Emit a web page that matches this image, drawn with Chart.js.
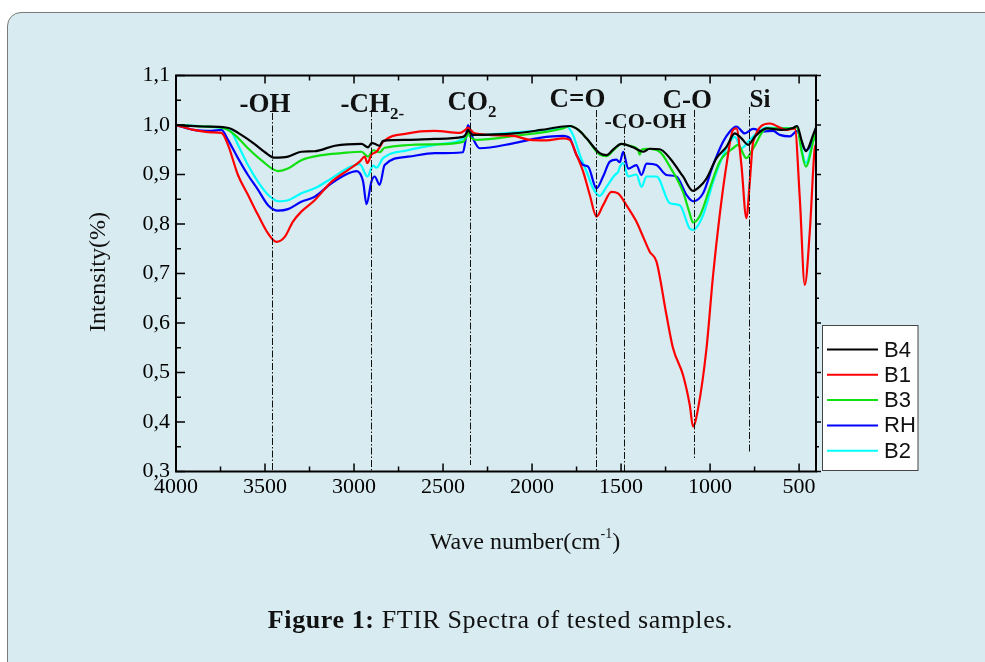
<!DOCTYPE html>
<html>
<head>
<meta charset="utf-8">
<script src="https://cdn.jsdelivr.net/npm/chart.js@4.4.1/dist/chart.umd.min.js"></script>
<style>
    html, body { margin: 0; padding: 0; background: #ffffff; }
    body { width: 985px; height: 662px; position: relative; overflow: hidden; }
    #panel { position: absolute; left: 7px; top: 12px; width: 1010px; height: 700px; background: #d8ebf1; border: 1px solid #7a7a7a; border-radius: 14px; }
    #chart { position: absolute; left: 0; top: 0; }
    #caption { position: absolute; left: 8px; top: 605px; width: 985px; text-align: center; font-family: "Liberation Serif", serif; font-size: 26px; letter-spacing: 0.6px; line-height: 30px; color: #111; }
</style>
</head>
<body>
<div id="panel"></div>
<canvas id="chart" width="985" height="662"></canvas>
<div id="caption"><b>Figure 1:</b> FTIR Spectra of tested samples.</div>
<script>
// wavenumber (cm-1), intensity
var B4 = [
    [4000, 1.000], [3850, 0.997], [3720, 0.995], [3689, 0.992], [3633, 0.980], [3560, 0.962],
    [3500, 0.945], [3446, 0.934], [3371, 0.936], [3296, 0.946], [3221, 0.947], [3108, 0.958],
    [2958, 0.962], [2921, 0.955], [2900, 0.964], [2884, 0.962], [2856, 0.958], [2837, 0.968],
    [2700, 0.970], [2547, 0.972], [2388, 0.976], [2370, 0.982], [2360, 0.990], [2345, 0.983],
    [2330, 0.980], [2100, 0.983], [1950, 0.990], [1826, 0.997], [1788, 0.998], [1740, 0.990],
    [1694, 0.973], [1620, 0.943], [1582, 0.939], [1540, 0.952], [1498, 0.962], [1433, 0.955],
    [1376, 0.946], [1339, 0.952], [1283, 0.951], [1226, 0.933], [1152, 0.896], [1096, 0.867],
    [1060, 0.875], [1020, 0.892], [964, 0.933], [908, 0.956], [861, 0.983], [824, 0.973],
    [786, 0.960], [749, 0.976], [683, 0.993], [600, 0.990], [534, 0.994], [511, 0.998],
    [487, 0.970], [462, 0.947], [421, 0.980], [405, 0.995]
];
var B1 = [
    [4000, 1.000], [3900, 0.990], [3800, 0.985], [3745, 0.984], [3708, 0.960], [3652, 0.899],
    [3596, 0.859], [3539, 0.818], [3483, 0.781], [3436, 0.764], [3389, 0.774], [3343, 0.805],
    [3296, 0.825], [3221, 0.848], [3127, 0.885], [3034, 0.909], [2968, 0.926], [2940, 0.936],
    [2925, 0.923], [2902, 0.940], [2874, 0.946], [2856, 0.955], [2837, 0.966], [2697, 0.983],
    [2547, 0.988], [2406, 0.984], [2375, 0.990], [2360, 0.995], [2340, 0.988], [2322, 0.983],
    [2107, 0.978], [2013, 0.970], [1919, 0.969], [1826, 0.973], [1788, 0.970], [1751, 0.940],
    [1713, 0.906], [1676, 0.859], [1638, 0.815], [1601, 0.838], [1554, 0.865], [1517, 0.862],
    [1470, 0.838], [1414, 0.805], [1376, 0.774], [1339, 0.744], [1301, 0.724], [1245, 0.616],
    [1208, 0.549], [1152, 0.495], [1114, 0.434], [1096, 0.391], [1067, 0.428], [1020, 0.549],
    [983, 0.697], [946, 0.818], [908, 0.919], [871, 0.990], [852, 0.993], [824, 0.919],
    [796, 0.812], [777, 0.885], [758, 0.966], [665, 1.003], [571, 0.990], [524, 0.993],
    [496, 0.852], [468, 0.677], [440, 0.784], [412, 0.953], [405, 0.960]
];
var B3 = [
    [4000, 1.000], [3850, 0.997], [3727, 0.993], [3670, 0.980], [3596, 0.953], [3521, 0.929],
    [3427, 0.907], [3371, 0.912], [3296, 0.929], [3183, 0.939], [3071, 0.943], [2958, 0.946],
    [2921, 0.936], [2893, 0.949], [2856, 0.945], [2828, 0.954], [2547, 0.961], [2388, 0.966],
    [2370, 0.975], [2360, 0.985], [2345, 0.975], [2313, 0.970], [2100, 0.978], [1826, 0.993],
    [1788, 0.998], [1740, 0.990], [1694, 0.973], [1620, 0.940], [1582, 0.937], [1540, 0.950],
    [1498, 0.962], [1450, 0.958], [1405, 0.950], [1395, 0.940], [1385, 0.950], [1357, 0.952],
    [1283, 0.946], [1226, 0.916], [1152, 0.865], [1115, 0.822], [1096, 0.803], [1058, 0.816],
    [1002, 0.872], [946, 0.926], [908, 0.943], [871, 0.953], [843, 0.960], [796, 0.933],
    [758, 0.953], [683, 0.993], [534, 0.993], [511, 0.996], [487, 0.949], [462, 0.916],
    [421, 0.966], [405, 0.990]
];
var RH = [
    [4000, 1.000], [3900, 0.990], [3800, 0.988], [3745, 0.990], [3708, 0.970], [3652, 0.933],
    [3596, 0.899], [3539, 0.869], [3483, 0.838], [3427, 0.827], [3371, 0.830], [3296, 0.845],
    [3221, 0.855], [3127, 0.882], [3034, 0.902], [2986, 0.907], [2949, 0.886], [2930, 0.840],
    [2902, 0.886], [2884, 0.896], [2856, 0.879], [2828, 0.919], [2697, 0.936], [2547, 0.943],
    [2388, 0.945], [2375, 0.966], [2360, 1.000], [2332, 0.973], [2294, 0.953], [2107, 0.963],
    [1957, 0.974], [1826, 0.978], [1788, 0.973], [1751, 0.940], [1713, 0.919], [1685, 0.916],
    [1638, 0.872], [1601, 0.896], [1563, 0.926], [1526, 0.930], [1507, 0.925], [1488, 0.946],
    [1460, 0.912], [1414, 0.919], [1385, 0.899], [1357, 0.922], [1301, 0.919], [1245, 0.899],
    [1189, 0.896], [1133, 0.859], [1096, 0.846], [1039, 0.862], [983, 0.919], [927, 0.966],
    [889, 0.987], [852, 0.997], [805, 0.983], [758, 0.992], [702, 0.987], [646, 0.988],
    [608, 0.980], [552, 0.977], [511, 0.988], [487, 0.966], [462, 0.949], [421, 0.970],
    [405, 0.990]
];
var B2 = [
    [4000, 1.000], [3850, 0.997], [3727, 0.993], [3689, 0.987], [3652, 0.960], [3596, 0.919],
    [3539, 0.885], [3483, 0.859], [3427, 0.846], [3371, 0.848], [3296, 0.862], [3221, 0.872],
    [3127, 0.892], [3034, 0.913], [2968, 0.921], [2925, 0.896], [2893, 0.918], [2874, 0.914],
    [2837, 0.933], [2697, 0.949], [2547, 0.960], [2369, 0.976], [2350, 0.985], [2330, 0.980],
    [2100, 0.985], [1826, 0.995], [1807, 0.997], [1770, 0.980], [1732, 0.940], [1694, 0.906],
    [1657, 0.872], [1620, 0.857], [1582, 0.875], [1535, 0.899], [1517, 0.905], [1507, 0.915],
    [1488, 0.923], [1460, 0.896], [1414, 0.900], [1385, 0.875], [1357, 0.896], [1301, 0.896],
    [1226, 0.842], [1170, 0.838], [1115, 0.791], [1096, 0.788], [1039, 0.818], [983, 0.885],
    [927, 0.939], [889, 0.966], [861, 0.976], [824, 0.953], [786, 0.966], [740, 0.983],
    [683, 0.995], [534, 0.993], [511, 0.998], [487, 0.953], [462, 0.923], [421, 0.970],
    [405, 0.990]
];

var seriesNames = ["B4", "B1", "B3", "RH", "B2"];
var seriesData = [B4, B1, B3, RH, B2];
var seriesColors = ["#000000", "#ff0000", "#11e011", "#0000ff", "#00ffff"];

var wavenumberTicks = [4000, 3500, 3000, 2500, 2000, 1500, 1000, 500];
var intensityTicks = [0.3, 0.4, 0.5, 0.6, 0.7, 0.8, 0.9, 1.0, 1.1];

// assigned bands
var bandLabels = ["-OH", "-CH", "CO", "C=O", "-CO-OH", "C-O", "Si"];
var bandSubs = ["", "2-", "2", "", "", "", ""];
var bandWavenumbers = [3458, 2902, 2350, 1638, 1483, 1092, 781];

// label offsets / line extents in pixels
var bandStyle = [
    { dx: -33, base: 112, size: 27, top: 113, bottom: 471 },
    { dx: -31, base: 112, size: 27, top: 110, bottom: 471 },
    { dx: -23, base: 110, size: 27, top: 110, bottom: 465 },
    { dx: -47, base: 107, size: 27, top: 110, bottom: 471 },
    { dx: -20, base: 128, size: 22, top: 127, bottom: 471 },
    { dx: -32, base: 108, size: 27, top: 110, bottom: 458 },
    { dx: 0, base: 107, size: 25, top: 107, bottom: 452 }
];

var serif = "'Liberation Serif', 'Times New Roman', serif";
var sans = "'Liberation Sans', Arial, sans-serif";

var decor = {
    id: "ftirDecor",
    afterDatasetsDraw: function (chart) {
        var ctx = chart.ctx;
        var a = chart.chartArea;
        var xs = chart.scales.x;
        var ys = chart.scales.y;
        ctx.save();

        // band lines + labels
        for (var i = 0; i < bandLabels.length; i++) {
            var st = bandStyle[i];
            var px = Math.round(xs.getPixelForValue(bandWavenumbers[i])) + 0.5;
            ctx.strokeStyle = "#111";
            ctx.lineWidth = 1;
            ctx.setLineDash([7, 2, 1.5, 2]);
            ctx.beginPath();
            ctx.moveTo(px, st.top);
            ctx.lineTo(px, st.bottom);
            ctx.stroke();
            ctx.setLineDash([]);

            ctx.fillStyle = "#111";
            ctx.textBaseline = "alphabetic";
            ctx.textAlign = "left";
            ctx.font = "bold " + st.size + "px " + serif;
            var tx = px + st.dx;
            ctx.fillText(bandLabels[i], tx, st.base);
            if (bandSubs[i]) {
                var w = ctx.measureText(bandLabels[i]).width;
                ctx.font = "bold 17px " + serif;
                ctx.fillText(bandSubs[i], tx + w, st.base + 7);
            }
        }

        // frame
        ctx.strokeStyle = "#000";
        ctx.lineWidth = 2;
        ctx.strokeRect(a.left, a.top, a.right - a.left, a.bottom - a.top);

        // ticks
        ctx.lineWidth = 1.5;
        ctx.beginPath();
        for (var wn = 4000; wn >= 500; wn -= 250) {
            var x = xs.getPixelForValue(wn);
            var len = wn % 500 === 0 ? 8 : 5;
            ctx.moveTo(x, a.bottom);
            ctx.lineTo(x, a.bottom - len);
            ctx.moveTo(x, a.top);
            ctx.lineTo(x, a.top + len);
        }
        for (var k = 0; k <= 16; k++) {
            var v = 0.3 + k * 0.05;
            var y = ys.getPixelForValue(v);
            var major = k % 2 === 0;
            ctx.moveTo(a.left, y);
            ctx.lineTo(a.left + (major ? 9 : 5), y);
            ctx.moveTo(a.right, y);
            ctx.lineTo(a.right + (major ? 5 : 3), y);
        }
        ctx.stroke();

        // legend box
        var lx = 822.5, ly = 325.5, lw = 95.5, lh = 145;
        ctx.fillStyle = "#ffffff";
        ctx.fillRect(lx, ly, lw, lh);
        ctx.strokeStyle = "#444";
        ctx.lineWidth = 1;
        ctx.strokeRect(lx, ly, lw, lh);
        ctx.font = "22px " + sans;
        ctx.textBaseline = "middle";
        chart.data.datasets.forEach(function (ds, j) {
            var ry = 349.5 + j * 25.3;
            ctx.strokeStyle = ds.borderColor;
            ctx.lineWidth = 2;
            ctx.beginPath();
            ctx.moveTo(827, ry);
            ctx.lineTo(878, ry);
            ctx.stroke();
            ctx.fillStyle = "#111";
            ctx.fillText(ds.label, 884, ry + 1);
        });

        // axis titles
        ctx.fillStyle = "#111";
        ctx.font = "24px " + serif;
        ctx.textAlign = "center";
        ctx.textBaseline = "middle";
        ctx.save();
        ctx.translate(99, 272);
        ctx.rotate(-Math.PI / 2);
        ctx.fillText("Intensity(%)", 0, 0);
        ctx.restore();

        ctx.textAlign = "left";
        ctx.textBaseline = "alphabetic";
        var t1 = "Wave number(cm", t2 = "-1", t3 = ")";
        ctx.font = "24px " + serif;
        var w1 = ctx.measureText(t1).width, w3 = ctx.measureText(t3).width;
        ctx.font = "14px " + serif;
        var w2 = ctx.measureText(t2).width;
        var sx = 525 - (w1 + w2 + w3) / 2;
        ctx.font = "24px " + serif;
        ctx.fillText(t1, sx, 549);
        ctx.font = "14px " + serif;
        ctx.fillText(t2, sx + w1, 538);
        ctx.font = "24px " + serif;
        ctx.fillText(t3, sx + w1 + w2, 549);

        ctx.restore();
    }
};

var datasets = seriesNames.map(function (name, i) {
    return {
        label: name,
        data: seriesData[i].map(function (p) { return { x: p[0], y: p[1] }; }),
        borderColor: seriesColors[i],
        backgroundColor: seriesColors[i],
        borderWidth: 2.2,
        pointRadius: 0,
        fill: false,
        cubicInterpolationMode: "monotone"
    };
});

var ctx = document.getElementById("chart").getContext("2d");
var ftirChart = new Chart(ctx, {
    type: "line",
    data: { datasets: datasets },
    options: {
        responsive: false,
        animation: false,
        layout: { padding: { top: 75.5, right: 169, left: 0, bottom: 0 } },
        plugins: {
            legend: { display: false },
            tooltip: { enabled: false }
        },
        scales: {
            x: {
                type: "linear",
                reverse: true,
                min: 405,
                max: 4000,
                afterBuildTicks: function (s) {
                    s.ticks = wavenumberTicks.map(function (v) { return { value: v }; });
                },
                afterFit: function (s) { s.height = 190.5; },
                grid: { display: false, drawTicks: false },
                border: { display: false },
                ticks: {
                    padding: 3,
                    color: "#000",
                    autoSkip: false,
                    maxRotation: 0,
                    font: { family: serif, size: 22 },
                    callback: function (v) { return String(v); }
                }
            },
            y: {
                min: 0.3,
                max: 1.1,
                afterBuildTicks: function (s) {
                    s.ticks = intensityTicks.map(function (v) { return { value: v }; });
                },
                afterFit: function (s) { s.width = 176; },
                grid: { display: false, drawTicks: false },
                border: { display: false },
                ticks: {
                    padding: 6,
                    color: "#000",
                    font: { family: serif, size: 22 },
                    callback: function (v) { return v.toFixed(1).replace(".", ","); }
                }
            }
        }
    },
    plugins: [decor]
});
</script>
</body>
</html>
